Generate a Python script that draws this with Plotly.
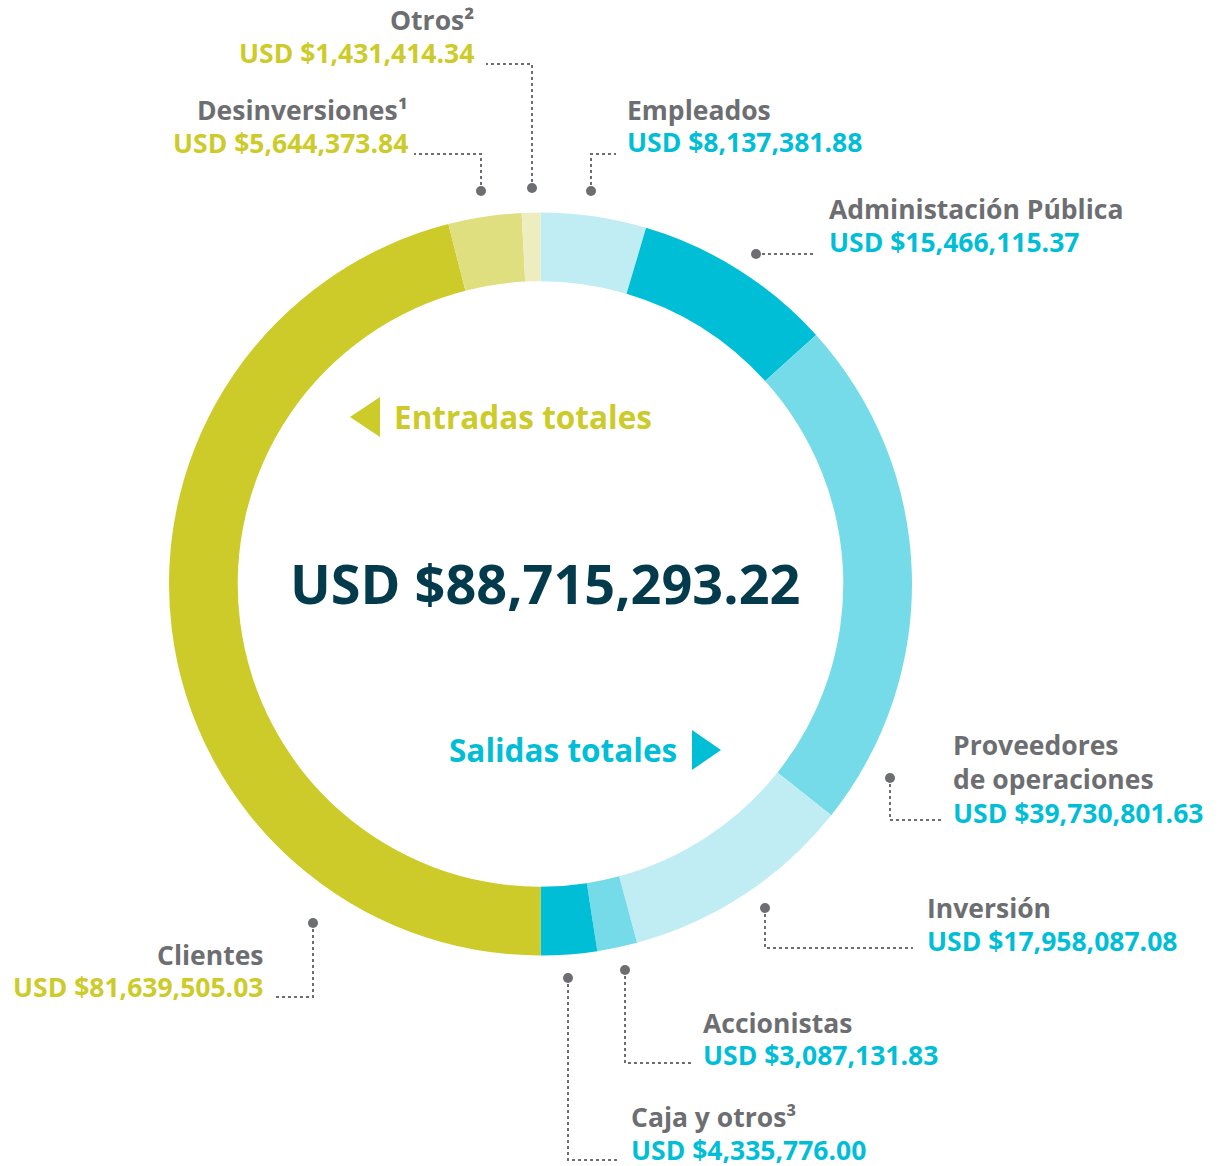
import plotly.graph_objects as go

# ---- data ----
categories = ["Empleados", "Administación Pública", "Proveedores<br>de operaciones", "Inversión",
              "Accionistas", "Caja y otros³", "Clientes", "Desinversiones¹", "Otros²"]
values = [8137381.88, 15466115.37, 39730801.63, 17958087.08, 3087131.83, 4335776.00,
          81639505.03, 5644373.84, 1431414.34]
value_labels = ["USD $8,137,381.88", "USD $15,466,115.37", "USD $39,730,801.63", "USD $17,958,087.08",
                "USD $3,087,131.83", "USD $4,335,776.00", "USD $81,639,505.03", "USD $5,644,373.84",
                "USD $1,431,414.34"]
total_label = "USD $88,715,293.22"
in_label = "Entradas totales"
out_label = "Salidas totales"

# ---- styles ----
CY_D, CY_M, CY_L = "#00BED6", "#75DBE8", "#BFEDF3"
OL_D, OL_M, OL_L = "#CDCB29", "#E0DF80", "#EEEDBF"
slice_colors = [CY_L, CY_D, CY_M, CY_L, CY_M, CY_D, OL_D, OL_M, OL_L]
value_colors = [CY_D] * 6 + [OL_D] * 3
GRAY = "#6D6E71"
NAVY = "#033B4C"
FONT = "Open Sans"
LBL = 26.5
W, H = 1219, 1166


def px(x):
    return x / W


def py(y):
    return 1 - y / H


fig = go.Figure()
fig.add_trace(go.Pie(
    labels=[c.replace("<br>", " ") for c in categories], values=values, sort=False,
    direction="clockwise", rotation=0, hole=0.815,
    marker=dict(colors=slice_colors, line=dict(width=0)),
    textinfo="none", hoverinfo="skip", showlegend=False,
    domain=dict(x=[px(169), px(912)], y=[py(956), py(212)]),
))

# label layout: (x, title_y, value_y, anchor) in page pixels
label_pos = [
    (625, 110, 142, "left"),
    (827, 209, 242, "left"),
    (951, 762, 813, "left"),
    (925, 908, 941, "left"),
    (701, 1023, 1055, "left"),
    (629, 1117, 1150, "left"),
    (265, 955, 987, "right"),
    (410, 110, 143, "right"),
    (476, 20, 53, "right"),
]
leaders = [
    [(591, 191), (591, 154), (616, 154)],
    [(756, 254), (815, 254)],
    [(890, 778), (890, 820), (942, 820)],
    [(765, 908), (765, 948), (913, 948)],
    [(625, 970), (625, 1063), (692, 1063)],
    [(568, 978), (568, 1160), (617, 1160)],
    [(313, 923), (313, 997), (275, 997)],
    [(481, 191), (481, 154), (414, 154)],
    [(532, 188), (532, 64), (486, 64)],
]


def ann(x, y, text, anchor, size, color):
    return dict(x=px(x), y=py(y), xref="paper", yref="paper", text=text, xanchor=anchor,
                yanchor="middle", showarrow=False,
                font=dict(family=FONT, size=size, color=color, weight=700))


annotations = []
shapes = []
for i, (x, ty, vy, anc) in enumerate(label_pos):
    title = categories[i]
    if "<br>" in title:
        for k, ln in enumerate(title.split("<br>")):
            annotations.append(ann(x, ty + k * 34 - 17, ln, anc, LBL, GRAY))
    else:
        annotations.append(ann(x, ty, title, anc, LBL, GRAY))
    annotations.append(ann(x, vy, value_labels[i], anc, LBL, value_colors[i]))
    pts = leaders[i]
    path = "M " + " L ".join(f"{px(a):.5f},{py(b):.5f}" for a, b in pts)
    shapes.append(dict(type="path", xref="paper", yref="paper", path=path,
                       line=dict(color=GRAY, width=2, dash="dot"), layer="above"))
    dx, dy = pts[0]
    shapes.append(dict(type="circle", xref="paper", yref="paper",
                       x0=px(dx - 5), x1=px(dx + 5), y0=py(dy + 5), y1=py(dy - 5),
                       fillcolor=GRAY, line=dict(width=0)))

# center texts
annotations.append(ann(545, 583, total_label, "center", 54, NAVY))
annotations.append(ann(392, 416, in_label, "left", 31.5, OL_D))
annotations.append(ann(679, 749, out_label, "right", 31.5, CY_D))


def tri(points, color):
    path = "M " + " L ".join(f"{px(a):.5f},{py(b):.5f}" for a, b in points) + " Z"
    return dict(type="path", xref="paper", yref="paper", path=path, fillcolor=color, line=dict(width=0))


shapes.append(tri([(350, 417), (380, 397), (380, 437)], OL_D))
shapes.append(tri([(721, 750), (692, 730), (692, 770)], CY_D))

fig.update_layout(
    width=W, height=H, margin=dict(l=0, r=0, t=0, b=0),
    paper_bgcolor="white", plot_bgcolor="rgba(0,0,0,0)",
    annotations=annotations, shapes=shapes,
)
fig.write_html("out.html", config={"displayModeBar": False},
               post_script="document.body.style.margin='0';document.body.style.overflow='hidden';")
